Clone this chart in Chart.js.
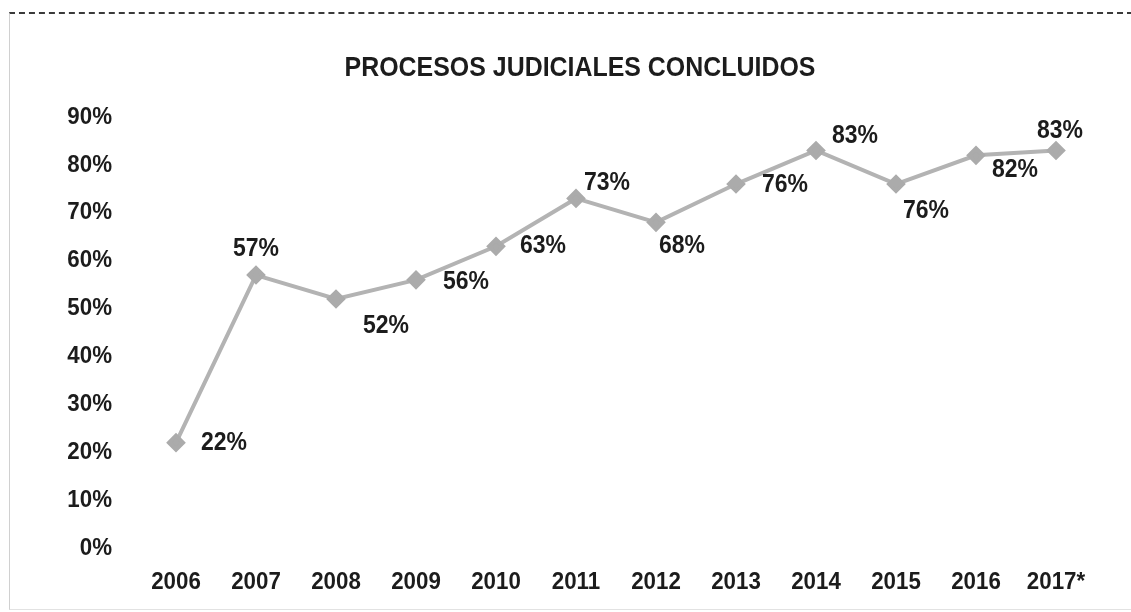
<!DOCTYPE html>
<html>
<head>
<meta charset="utf-8">
<script src="https://cdn.jsdelivr.net/npm/chart.js@4.4.0/dist/chart.umd.min.js"></script>
<style>
  html, body { margin: 0; padding: 0; background: #fff; }
  #wrap { position: relative; width: 1131px; height: 612px; }
  #frame {
    position: absolute; left: 9px; top: 12px; right: -2px; bottom: 2px;
    border-top: 2px dashed #3a3a3a;
    border-left: 1px solid #d0d0d0;
    border-bottom: 1px solid #e2e2e2;
    pointer-events: none;
  }
</style>
</head>
<body>
<div id="wrap">
  <canvas id="chart" width="1131" height="612"></canvas>
  <div id="frame"></div>
</div>
<script>
// datos del gráfico
const years = ['2006', '2007', '2008', '2009', '2010', '2011', '2012', '2013', '2014', '2015', '2016', '2017*'];
const concluded = [22, 57, 52, 56, 63, 73, 68, 76, 83, 76, 82, 83];
const yTicks = [0, 10, 20, 30, 40, 50, 60, 70, 80, 90];
const chartTitle = 'PROCESOS JUDICIALES CONCLUIDOS';

const FONT = "'Liberation Sans', Arial, Helvetica, sans-serif";
const INK = '#1c1c1c';

// desplazamiento de cada etiqueta respecto a su punto [dx, dy]
const labelOffsets = [
  [48, 0], [0, -26], [50, 27], [50, 2], [47, 0], [31, -15],
  [26, 24], [49, 1], [39, -14], [30, 27], [39, 15], [4, -19]
];

// texto "condensado": Liberation Sans Bold comprimido horizontalmente
function condensedText(ctx, text, x, y, size, sx, align) {
  ctx.save();
  ctx.font = 'bold ' + size + 'px ' + FONT;
  ctx.fillStyle = INK;
  ctx.textBaseline = 'middle';
  ctx.textAlign = align;
  ctx.translate(x, y);
  ctx.scale(sx, 1);
  ctx.fillText(text, 0, 0);
  ctx.restore();
}

const textLayer = {
  id: 'textLayer',
  afterDraw(chart) {
    const ctx = chart.ctx;
    const xs = chart.scales.x;
    const ys = chart.scales.y;

    condensedText(ctx, chartTitle, 580, 68, 28, 0.89, 'center');

    yTicks.forEach(v => {
      condensedText(ctx, v + '%', 112, ys.getPixelForValue(v), 24, 0.93, 'right');
    });

    years.forEach((label, i) => {
      condensedText(ctx, label, xs.getPixelForTick(i), 582, 24, 0.93, 'center');
    });

    chart.getDatasetMeta(0).data.forEach((pt, i) => {
      const off = labelOffsets[i];
      condensedText(ctx, concluded[i] + '%', pt.x + off[0], pt.y + off[1], 25, 0.92, 'center');
    });
  }
};

new Chart(document.getElementById('chart'), {
  type: 'line',
  data: {
    labels: years,
    datasets: [{
      data: concluded,
      borderColor: '#b3b3b3',
      borderWidth: 4,
      pointStyle: 'rectRot',
      pointRadius: 7,
      pointBackgroundColor: '#ababab',
      pointBorderColor: '#ababab',
      tension: 0
    }]
  },
  options: {
    responsive: false,
    animation: false,
    layout: { padding: { left: 0, right: 35, top: 117, bottom: 0 } },
    plugins: {
      legend: { display: false },
      tooltip: { enabled: false },
      title: { display: false }
    },
    scales: {
      x: {
        offset: true,
        grid: { display: false, drawTicks: false },
        border: { display: false },
        ticks: { display: false },
        afterFit(scale) { scale.height = 64; }
      },
      y: {
        min: 0,
        max: 90,
        grid: { display: false, drawTicks: false },
        border: { display: false },
        ticks: { display: false, stepSize: 10 },
        afterFit(scale) { scale.width = 136; }
      }
    }
  },
  plugins: [textLayer]
});
</script>
</body>
</html>
